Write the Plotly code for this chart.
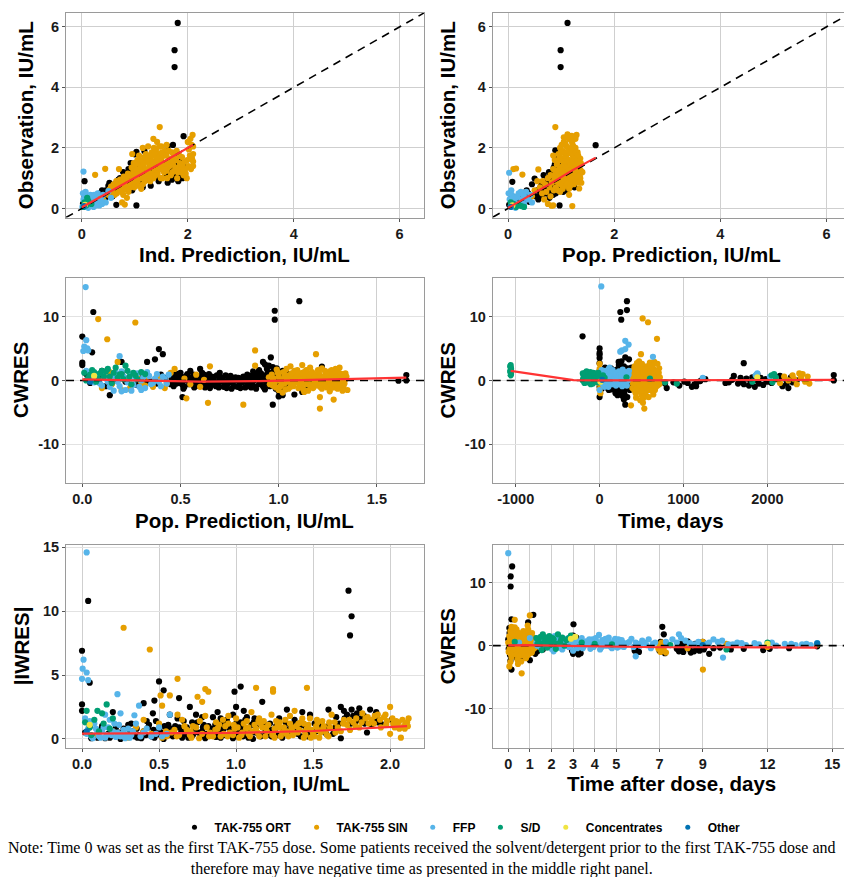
import plotly.graph_objects as go

# ---------------- data ----------------
GROUPS = ["TAK-755 ORT", "TAK-755 SIN", "FFP", "S/D", "Concentrates", "Other"]
COLORS = ["#000000", "#E69F00", "#56B4E9", "#009E73", "#F0E442", "#0072B2"]

# Panel 1: Observation vs Ind. Prediction
p1_ort = [(1.81,6.13),(1.75,5.23),(1.75,4.67),(1.92,2.39),(1.72,2.1),(1.18,1.9),(1.03,1.87),(1.0,1.79),(1.03,0.1),(0.65,0.12),
          (0.05,0.9),(0.05,0.44),(0.02,0.15),(0.1,0.1),(0.15,0.25),(0.2,0.3),(0.3,0.35),(0.35,0.5),(0.4,0.3),(0.45,0.6),
          (0.5,0.75),(0.55,0.5),(0.58,0.4),(0.6,0.65),(0.65,0.85),(0.7,0.6),(0.72,1.0),(0.75,0.75),(0.8,0.9),(0.84,0.7),
          (0.85,1.1),(0.88,1.3),(0.9,0.95),(0.92,1.5),(0.95,1.15),(0.98,0.8),(1.0,1.35),(1.02,1.0),(1.05,1.55),(1.08,1.2),
          (1.1,0.9),(1.12,1.4),(1.15,1.1),(1.2,1.25),(1.25,0.95),(1.3,1.4),(1.35,1.2),(1.4,1.05),(1.45,0.9),(1.5,1.3),
          (1.55,1.45),(1.6,1.1),(1.62,0.85),(1.65,1.5),(1.68,1.3),(1.7,0.95),(1.72,1.2),(1.75,1.45),(1.78,1.05),(1.8,1.35),
          (1.82,0.9),(1.85,1.55),(1.88,1.25),(1.9,1.0),(1.93,1.15),(1.62,2.05),(0.95,0.6),(1.15,0.7),(0.78,1.2),(1.3,0.75),
          (0.25,0.15),(0.45,0.35),(0.32,0.45),(0.38,0.6),(0.42,0.4),(0.48,0.55),(0.52,0.85),(0.57,0.7),(0.62,0.55),(0.67,0.75),
          (0.69,0.95),(0.74,0.85),(0.77,0.65),(0.82,0.8),(0.87,0.9),(0.93,1.05),(0.96,1.3),(1.01,1.2),(1.04,1.4),(1.07,1.05),
          (1.11,1.25),(1.14,1.55),(1.17,1.0),(1.22,1.15),(1.27,1.3),(1.32,1.05),(1.57,1.25),(1.63,1.4),(1.67,1.1),(1.73,1.35),
          (1.77,1.2),(1.83,1.3),(1.87,1.05),(1.91,1.4),(1.86,1.15)]
p1_sin = [(0.25,1.11),(0.44,1.31),(0.52,0.62),(0.55,0.72),(0.58,0.55),(0.6,0.8),(0.62,0.68),(0.65,0.9),(0.68,0.6),(0.7,0.75),
          (0.72,0.95),(0.75,0.7),(0.78,0.85),(0.8,0.65),(0.81,0.13),(0.76,0.2),(0.82,1.0),(0.85,0.78),(0.88,0.9),(0.9,1.1),
          (0.92,0.7),(0.95,0.95),(0.95,1.8),(0.97,1.2),(1.0,0.85),(1.0,1.05),(1.02,1.3),(1.05,0.9),(1.07,1.15),(1.1,1.0),
          (1.1,1.45),(1.12,1.25),(1.15,0.8),(1.15,2.0),(1.17,1.35),(1.2,1.1),(1.2,1.55),(1.22,0.95),(1.25,1.3),(1.25,1.7),
          (1.27,1.45),(1.3,1.15),(1.3,1.6),(1.32,1.85),(1.33,1.35),(1.35,1.0),(1.35,1.5),(1.37,1.75),(1.38,1.25),(1.4,1.6),
          (1.4,1.95),(1.42,1.4),(1.43,1.15),(1.45,1.55),(1.45,1.8),(1.47,2.69),(1.48,1.3),(1.5,1.65),(1.5,2.05),(1.52,1.45),
          (1.55,1.2),(1.55,1.75),(1.57,1.9),(1.6,1.5),(1.6,2.1),(1.62,1.35),(1.65,1.65),(1.68,1.1),(1.7,1.85),(1.72,1.45),
          (1.75,1.25),(1.78,1.6),(1.8,1.0),(1.82,1.35),(1.85,1.5),(1.88,1.2),(1.9,1.4),(1.92,1.1),(1.95,1.3),(1.98,1.0),
          (2.0,2.2),(2.02,1.95),(2.05,2.3),(2.08,1.65),(2.09,2.43),(2.1,1.8),(2.1,1.55),(2.1,2.05),(1.28,1.05),(1.18,1.7),
          (1.42,2.2),(1.52,1.0),(0.98,1.5),(1.05,1.6),(1.12,0.65),(0.88,0.55),(1.6,1.25),(1.35,2.3),(1.25,2.05),(0.7,1.3),
          (1.08,1.75),(0.66,0.5),(0.5,0.45),(0.4,0.3),(0.35,0.4),(0.3,0.2),(0.85,0.35),(0.78,0.45),
          (0.62,0.45),(0.68,0.85),(0.74,0.55),(0.79,1.05),(0.84,0.62),(0.87,1.15),(0.91,0.82),(0.94,1.35),(0.99,0.7),(1.01,1.45),
          (1.04,1.05),(1.06,0.75),(1.09,1.3),(1.11,1.6),(1.13,1.05),(1.16,1.5),(1.19,0.9),(1.21,1.8),(1.23,1.2),(1.26,1.55),
          (1.29,0.9),(1.31,1.75),(1.34,1.4),(1.36,2.0),(1.39,1.1),(1.41,1.7),(1.44,1.35),(1.46,2.05),(1.49,1.0),(1.51,1.85),
          (1.54,1.5),(1.56,1.3),(1.59,1.75),(1.61,1.0),(1.64,1.9),(1.66,1.4),(1.69,1.6),(1.71,1.2),(1.74,1.75),(1.77,1.35),
          (1.79,1.9),(1.81,1.2),(1.84,1.75),(1.87,1.45),(1.89,1.7),(1.91,1.25),(1.94,1.55),(1.96,1.15),(1.99,1.6),(2.01,1.4),
          (2.04,1.75),(2.06,1.3),(2.07,2.1),(2.1,1.4),(1.18,1.15),(1.33,1.55),(1.48,1.45),(1.63,1.55),(1.38,1.85)]
p1_ffp = [(0.03,1.22),(0.02,0.5),(0.03,0.3),(0.05,0.1),(0.06,0.4),(0.08,0.2),(0.1,0.05),(0.12,0.3),(0.14,0.15),(0.16,0.45),
          (0.18,0.1),(0.2,0.25),(0.22,0.05),(0.25,0.35),(0.28,0.2),(0.3,0.5),(0.33,0.1),(0.36,0.3),(0.4,0.45),(0.45,0.2),
          (0.5,0.57),(0.55,0.35),(0.07,0.55),(0.12,0.02),(0.01,0.05),(0.26,0.1),(0.15,0.35),(0.23,0.45),(0.38,0.15),(0.09,0.3)]
p1_sd = [(0.05,0.2),(0.08,0.1),(0.12,0.25),(0.03,0.05),(0.18,0.15),(0.1,0.35)]
p1_conc = [(0.06,0.12)]
p1_other = [(0.04,0.08)]
p1_smooth_x = [0.0, 0.5, 1.0, 1.5, 2.1]
p1_smooth_y = [0.04, 0.52, 1.02, 1.5, 2.1]

# Panel 2: Observation vs Pop. Prediction
p2_ort = [(1.12,6.13),(0.99,5.23),(0.99,4.67),(1.18,2.39),(1.65,2.09),(0.89,1.92),(0.9,1.7),(0.92,1.45),(0.97,0.1),(0.08,0.88),
          (0.07,0.41),(0.02,0.12),(0.12,0.2),(0.2,0.3),(0.3,0.25),(0.38,0.5),(0.4,0.22),(0.45,0.8),(0.5,0.99),(0.52,0.4),
          (0.55,0.6),(0.57,0.3),(0.6,0.55),(0.62,0.85),(0.65,0.45),(0.67,1.1),(0.7,0.65),(0.72,0.9),(0.75,0.5),(0.77,1.2),
          (0.8,0.7),(0.82,1.0),(0.84,0.6),(0.86,1.35),(0.88,0.8),(0.9,1.05),(0.92,0.65),(0.94,1.25),(0.96,0.9),(0.98,1.5),
          (1.0,0.75),(1.02,1.15),(1.04,0.55),(1.06,1.0),(1.08,0.7),(1.1,0.6),(1.05,1.4),(0.95,1.1),(0.85,0.45),(0.78,0.35),
          (0.35,0.6),(0.25,0.4),(1.25,0.7),(1.0,1.3),(0.9,0.5),(0.6,0.4),(0.63,0.7),(0.66,0.55),(0.69,0.85),(0.71,0.5),
          (0.74,0.75),(0.76,0.95),(0.79,0.55),(0.81,0.85),(0.83,1.15),(0.85,0.75),(0.87,1.0),(0.89,1.25),(0.91,0.85),(0.93,1.1),
          (0.95,1.35),(0.97,0.7),(0.99,1.2),(1.01,0.95),(1.03,1.3),(0.88,1.45),(0.93,1.6),(0.82,0.5)]
p2_sin = [(0.1,1.3),(0.15,1.32),(0.27,1.12),(0.57,1.29),(0.64,0.5),(0.68,0.3),(0.72,0.55),(0.75,0.15),(0.8,0.4),(0.82,0.09),
          (0.85,0.1),(1.21,0.08),(0.89,2.69),(1.29,2.43),(0.6,0.7),(0.65,0.9),(0.7,0.8),(0.75,1.0),(0.78,0.7),(0.8,1.1),
          (0.82,0.85),(0.85,1.3),(0.87,0.95),(0.88,1.6),(0.9,1.2),(0.9,0.7),(0.92,1.45),(0.93,1.0),(0.95,1.8),(0.95,0.85),
          (0.97,1.3),(0.98,2.0),(1.0,1.1),(1.0,1.6),(1.02,0.9),(1.02,1.9),(1.03,1.4),(1.05,1.2),(1.05,2.2),(1.06,1.0),
          (1.07,1.7),(1.08,0.75),(1.09,1.5),(1.1,1.25),(1.1,2.05),(1.11,0.95),(1.12,1.8),(1.13,1.4),(1.14,1.1),(1.15,2.3),
          (1.15,0.65),(1.16,1.6),(1.17,1.3),(1.18,1.95),(1.19,0.9),(1.2,1.5),(1.2,1.15),(1.21,2.15),(1.22,1.75),(1.23,1.35),
          (1.24,0.8),(1.25,1.05),(1.25,1.9),(1.26,1.55),(1.27,2.0),(1.28,1.25),(1.29,1.7),(1.3,0.95),(1.3,1.45),(1.31,1.85),
          (1.32,1.15),(1.33,1.6),(1.34,0.66),(1.35,1.3),(1.36,1.0),(1.37,1.5),(1.38,0.85),(1.12,2.45),(1.05,2.35),(0.98,0.55),
          (1.27,2.3),(0.85,1.75),(1.15,0.45),(0.5,0.6),(0.45,0.4),(0.55,0.9),(1.4,1.2),(1.18,1.05),(1.08,1.35),
          (0.86,0.6),(0.88,1.1),(0.91,0.9),(0.93,1.55),(0.94,0.6),(0.96,1.15),(0.97,1.7),(0.99,0.8),(1.01,1.35),(1.01,2.1),
          (1.03,0.65),(1.04,1.55),(1.05,0.95),(1.06,1.85),(1.07,1.3),(1.08,2.15),(1.09,1.05),(1.1,1.65),(1.11,0.8),(1.12,1.35),
          (1.13,2.0),(1.14,1.6),(1.15,1.05),(1.16,1.85),(1.17,0.75),(1.18,1.45),(1.19,2.25),(1.2,1.3),(1.21,0.95),(1.22,1.55),
          (1.23,2.05),(1.24,1.15),(1.25,1.65),(1.26,0.9),(1.27,1.45),(1.28,1.85),(1.29,1.05),(1.3,1.6),(1.31,1.3),(1.32,1.75),
          (1.33,0.85),(1.34,1.45),(1.35,1.1),(1.36,1.65),(1.37,1.25),(1.1,2.35),(1.2,2.4),(1.0,1.85),(0.92,1.25),(1.15,1.25)]
p2_ffp = [(0.02,1.18),(0.01,0.5),(0.03,0.3),(0.05,0.1),(0.07,0.45),(0.1,0.25),(0.12,0.05),(0.15,0.35),(0.18,0.15),(0.2,0.5),
          (0.22,0.1),(0.25,0.3),(0.28,0.45),(0.3,0.15),(0.34,0.55),(0.38,0.3),(0.42,0.45),(0.45,0.2),(0.06,0.6),(0.14,0.02),
          (0.17,0.4),(0.24,0.55),(0.32,0.35),(0.09,0.35)]
p2_sd = [(0.15,0.05),(0.2,0.12),(0.25,0.08),(0.1,0.15),(0.3,0.05),(0.05,0.2)]
p2_conc = [(0.08,0.1)]
p2_other = [(0.05,0.05)]
p2_smooth_x = [0.0, 0.4, 0.8, 1.2, 1.65]
p2_smooth_y = [0.02, 0.42, 0.82, 1.25, 1.68]

# Panel 3: CWRES vs Pop. Prediction
p3_ort = [(0.056,10.7),(0.0,6.86),(0.05,4.4),(0.0,2.77),(0.0,2.4),(0.2,2.9),(0.33,2.9),(0.37,3.3),(0.39,4.9),(0.41,4.1),
          (0.51,-2.6),(0.97,-3.8),(0.98,9.5),(0.98,10.9),(1.105,12.4),(0.96,3.6),(0.92,2.9),(1.22,2.15),(1.65,0.0),(1.61,-0.05),
          (1.65,0.85),(1.0,-2.5),(1.02,-2.3),(0.14,-2.3),(0.02,1.0),(0.05,0.3),(0.1,0.8),(0.15,-0.5),(0.2,1.2),(0.25,-0.8),
          (0.3,0.5),(0.35,-0.2),(0.4,0.9),(0.45,-0.6),(0.47,0.5),(0.48,-0.5),(0.5,1.2),(0.5,0.0),(0.52,-1.0),(0.53,0.7),
          (0.55,1.5),(0.56,-0.3),(0.58,0.3),(0.6,-0.8),(0.62,0.9),(0.64,-0.1),(0.65,-1.2),(0.67,0.4),(0.69,-0.6),(0.7,0.1),
          (0.72,-1.0),(0.73,0.8),(0.75,-0.3),(0.76,-1.3),(0.78,0.5),(0.8,-0.7),(0.81,0.2),(0.83,-1.1),(0.84,0.9),(0.86,-0.4),
          (0.87,1.4),(0.88,-1.0),(0.89,0.3),(0.9,-0.6),(0.91,1.1),(0.92,0.0),(0.93,-1.4),(0.94,1.8),(0.95,0.6),(0.96,-0.8),
          (0.97,1.3),(0.98,0.2),(0.99,-1.1),(1.0,0.8),(1.01,-0.3),(1.02,1.5),(1.03,-0.9),(1.04,0.4),(0.97,2.1),(0.93,2.5),
          (1.05,1.0),(1.1,-0.2),(1.15,-1.2),(1.2,0.5),(1.25,-0.7),(1.3,0.1),(1.12,-1.8),(0.6,1.8),(0.7,1.2),(1.08,-2.2),
          (1.22,-0.9),(0.46,-0.2),(0.49,0.9),(0.51,-0.7),(0.54,0.2),(0.57,-1.1),(0.59,0.6),(0.61,1.2),(0.63,-0.5),(0.66,0.6),
          (0.68,-0.9),(0.71,0.5),(0.74,-0.6),(0.77,0.1),(0.79,-1.0),(0.82,0.6),(0.85,-0.2),(0.86,-1.1),(0.88,0.9),(0.9,0.4),
          (0.92,-0.9),(0.93,0.8),(0.95,-0.3),(0.96,1.1),(0.98,-0.5),(0.99,0.6),(1.0,-0.7),(1.01,1.2),(1.03,0.1),(1.05,-0.4),
          (0.94,-0.4),(0.87,0.2),(0.8,0.3),(0.73,-0.2),(0.67,0.0),(0.99,1.9),(0.95,2.3),(1.0,-1.7),(0.9,1.6),(0.84,-0.7),
          (0.04,-0.4),(0.08,0.2),(0.12,-0.9),(0.18,0.0),(0.22,-0.2),(0.28,-0.7),(0.33,-0.1),(0.38,-0.5),(0.42,0.4),(0.1,1.5),
          (0.26,1.0),
          (0.455,0.3),(0.465,-0.9),(0.475,1.1),(0.485,0.1),(0.495,-0.4),(0.505,0.6),(0.515,-1.3),(0.525,0.0),(0.535,1.0),(0.545,-0.6),
          (0.555,0.4),(0.565,0.9),(0.575,-0.2),(0.585,-0.8),(0.595,0.1),(0.605,0.5),(0.615,-0.4),(0.625,-1.1),(0.635,0.3),(0.645,1.0),
          (0.655,-0.7),(0.665,0.2),(0.675,-0.3),(0.685,0.8),(0.695,-1.1),(0.705,-0.2),(0.715,0.3),(0.725,-0.5),(0.735,-1.2),(0.745,0.2),
          (0.755,0.7),(0.765,-0.4),(0.775,-0.9),(0.785,0.0),(0.795,0.4),(0.805,-1.2),(0.815,-0.3),(0.825,0.1),(0.835,0.5),(0.845,-0.9),
          (0.855,0.7),(0.865,-0.5),(0.875,0.0),(0.885,-1.3),(0.895,1.2),(0.905,-0.2),(0.915,0.6),(0.925,-1.1),(0.935,0.3),(0.945,1.3),
          (0.955,-0.9),(0.965,0.0),(0.975,0.9),(0.985,-1.3),(0.995,0.3),(1.005,-0.1),(1.015,0.5),(1.025,-1.2),(1.035,0.8),(1.045,-0.6)]
p3_sin = [(0.081,9.6),(0.27,9.06),(0.127,6.44),(0.18,2.9),(0.53,-2.8),(0.64,-3.5),(0.82,-3.8),(0.88,4.7),(1.19,4.1),(1.21,-4.4),
          (1.28,-3.0),(1.21,-2.6),(1.34,1.1),(1.35,-1.5),(0.88,2.3),(1.12,2.4),(0.47,1.8),(0.65,2.2),(0.1,-1.2),(0.12,0.5),
          (0.15,-0.6),(0.18,1.0),(0.2,-1.5),(0.22,0.2),(0.25,-0.9),(0.28,0.8),(0.3,-0.3),(0.33,0.6),(0.36,-1.0),(0.4,0.3),
          (0.43,-0.5),(0.45,1.2),(0.52,0.3),(0.55,-0.6),(0.58,0.9),(0.6,-1.0),(0.62,0.1),(0.95,0.5),(0.97,-0.8),(1.0,1.2),
          (1.0,-1.5),(1.02,0.2),(1.03,-0.5),(1.04,1.8),(1.05,0.8),(1.06,-1.0),(1.07,0.0),(1.08,1.5),(1.09,-0.3),(1.1,0.9),
          (1.1,-1.2),(1.11,0.4),(1.12,-0.7),(1.13,1.3),(1.14,0.1),(1.15,-1.6),(1.15,0.7),(1.16,2.0),(1.17,-0.4),(1.18,1.0),
          (1.18,-1.0),(1.19,0.3),(1.2,1.6),(1.2,-0.2),(1.21,0.8),(1.22,-1.3),(1.22,1.9),(1.23,0.0),(1.24,1.2),(1.24,-0.8),
          (1.25,0.5),(1.26,-1.7),(1.26,1.4),(1.27,-0.3),(1.28,0.9),(1.28,-1.1),(1.29,1.8),(1.3,0.2),(1.3,-0.6),(1.31,1.1),
          (1.32,-0.2),(1.02,-1.9),(1.06,2.2),(1.13,-1.8),(0.99,1.7),(1.17,1.3),(1.25,-0.1),
          (0.96,0.1),(0.98,-0.4),(1.0,0.6),(1.01,-0.9),(1.03,0.9),(1.04,-0.2),(1.06,0.4),(1.07,-0.7),(1.08,1.0),(1.09,0.2),
          (1.11,-0.9),(1.12,0.5),(1.13,-0.3),(1.14,1.6),(1.16,-0.8),(1.17,0.3),(1.19,-0.5),(1.2,0.9),(1.21,-1.0),(1.23,0.6),
          (1.24,-0.3),(1.25,1.1),(1.26,0.2),(1.27,-1.1),(1.28,0.4),(1.29,-0.5),(1.3,1.4),(1.31,-0.3),(1.32,0.5),(1.33,-1.0),
          (1.34,0.2),(1.12,1.2),(1.18,0.1),(1.22,0.3),(1.05,-1.3),(1.15,1.0),(1.3,-1.3),(1.27,1.6),(0.14,1.3),(0.24,-1.3),
          (0.32,-0.8),(0.38,0.7),(0.42,-1.2),
          (0.955,-0.6),(0.965,0.9),(0.975,0.3),(0.985,-1.1),(0.995,1.2),(1.005,0.0),(1.015,-0.6),(1.025,1.3),(1.035,-1.4),(1.045,0.5),
          (1.055,-0.2),(1.065,1.1),(1.075,-0.9),(1.085,0.3),(1.095,1.6),(1.105,-0.5),(1.115,0.1),(1.125,-1.4),(1.135,0.7),(1.145,-0.6),
          (1.155,0.3),(1.165,1.1),(1.175,-1.2),(1.185,0.5),(1.195,-0.1),(1.205,1.3),(1.215,-0.6),(1.225,0.0),(1.235,1.5),(1.245,-1.1),
          (1.255,0.3),(1.265,-0.5),(1.275,1.0),(1.285,-0.1),(1.295,0.6),(1.305,-0.9),(1.315,0.3),(1.325,1.0),(1.335,-0.5),(1.345,0.6),
          (1.325,-1.6),(1.31,2.0)]
p3_ffp = [(0.017,14.6),(0.005,4.6),(0.01,5.3),(0.02,6.3),(0.025,5.0),(0.03,4.7),(0.19,3.8),(0.02,1.5),(0.04,0.5),(0.06,-0.3),
          (0.08,1.0),(0.1,-0.8),(0.12,0.3),(0.14,-1.0),(0.16,0.8),(0.18,-0.2),(0.2,1.4),(0.22,-1.5),(0.24,0.5),(0.26,-0.7),
          (0.28,1.1),(0.3,0.0),(0.32,-1.2),(0.34,0.7),(0.36,-0.4),(0.38,1.0),(0.4,-0.9),(0.42,0.2),(0.44,0.9),(0.25,-1.6),
          (0.16,-1.6),(0.05,1.2),(0.07,0.6),(0.09,-0.5),(0.11,1.3),(0.13,-0.2),(0.15,0.4),(0.17,1.2),(0.19,-0.9),(0.21,0.6),
          (0.23,-0.3),(0.25,1.0),(0.27,0.2),(0.29,-1.0),(0.31,0.5),(0.33,1.3),(0.35,-0.6),(0.37,0.3),(0.39,-0.2),(0.41,0.6),
          (0.43,-0.5),(0.2,-1.7),(0.3,-1.5)]
p3_sd = [(0.01,1.2),(0.03,0.4),(0.05,1.6),(0.07,-0.2),(0.09,1.1),(0.11,0.6),(0.13,1.8),(0.15,-0.4),(0.17,2.0),(0.19,0.9),
         (0.21,0.2),(0.23,1.5),(0.25,-0.6),(0.27,0.8),(0.3,1.3),(0.22,2.3),(0.02,0.0),(0.12,1.4),(0.04,0.9),(0.06,1.3),
         (0.08,0.3),(0.1,1.5),(0.14,0.6),(0.16,1.2),(0.18,0.4),(0.2,1.0),(0.24,0.6),(0.26,1.2),(0.28,0.2),(0.32,1.0)]
p3_conc = [(0.06,0.7)]
p3_other = [(0.04,-0.2)]
p3_smooth_x = [0.0, 0.3, 0.6, 0.9, 1.2, 1.65]
p3_smooth_y = [0.15, 0.0, -0.2, -0.1, 0.1, 0.45]

# Panel 4: CWRES vs Time
p4_ort = [(-203,6.9),(247,10.7),(258,9.5),(326,12.4),(326,11.0),(306,3.6),(227,2.9),(0,2.7),(0,3.5),(0,4.3),
          (0,5.0),(0,4.0),(0,-2.6),(306,-3.8),(1718,2.7),(2791,0.85),(2791,0.0),(0,0.5),(0,-1.0),(0,1.5),
          (20,0.2),(40,-0.9),(60,1.1),(80,-0.3),(100,0.7),(110,-1.5),(130,0.0),(150,1.4),(160,-0.6),(180,0.9),
          (190,-2.0),(200,0.3),(214,-2.3),(220,1.8),(240,-1.0),(250,0.5),(260,-1.8),(270,1.2),(280,-0.4),(290,2.2),
          (300,0.1),(310,-1.2),(320,0.8),(330,-2.6),(340,1.6),(350,-0.2),(360,-1.5),(370,0.6),(380,2.0),(385,-0.8),
          (290,-3.0),(260,3.0),(350,3.3),(200,-1.2),(150,-0.8),(780,-0.5),(800,-1.2),(880,-0.3),(950,-0.8),(1050,-0.4),
          (1100,-1.0),(1130,-0.6),(1160,-0.3),(1200,-0.1),(1230,0.3),(1260,0.2),(1150,-0.9),(1010,-0.2),(1500,-0.4),(1540,-0.3),
          (1580,0.1),(1600,0.7),(1650,-0.5),(1700,-0.2),(1750,0.3),(1780,-0.8),(1800,-0.3),(1820,0.5),(1850,-1.0),(1870,0.0),
          (1880,1.0),(1900,-0.5),(1920,0.4),(1950,-0.7),(1980,0.2),(2000,-0.2),(2050,-0.4),(2100,0.2),(2150,0.7),(2180,-0.9),
          (2200,0.3),(2230,-0.5),(2250,-1.2),(2280,0.5),(2300,-0.3),(1720,-0.6),(1680,0.4),(2350,0.0),
          (5,-0.5),(15,1.2),(25,-1.3),(35,0.8),(45,0.1),(55,-0.7),(65,2.0),(75,0.4),(85,-1.1),(95,1.5),
          (105,-0.2),(115,0.8),(125,-0.9),(135,1.9),(145,0.3),(155,-1.4),(165,0.6),(175,-0.3),(185,1.6),(195,0.0),
          (205,-0.8),(215,0.9),(225,-1.6),(235,0.4),(245,1.3),(255,-0.5),(265,0.2),(275,-1.1),(285,0.7),(295,-2.0),
          (305,1.0),(315,-0.6),(325,0.4),(335,1.9),(345,-1.0),(355,0.5),(365,-0.3),(375,1.2),(395,0.0),(270,-2.4),
          (230,2.4)]
p4_sin = [(513,9.7),(577,9.1),(684,6.5),(652,2.9),(493,4.1),(374,-3.9),(485,-3.1),(533,-4.4),(517,-3.5),(0,2.6),
          (0,1.8),(0,1.0),(0,0.2),(0,-0.6),(0,-1.4),(10,-2.0),(10,0.6),(380,0.5),(390,-1.2),(400,1.5),
          (410,-0.3),(420,0.9),(430,-2.0),(440,0.2),(450,2.1),(455,-0.8),(460,1.2),(470,-1.5),(475,0.4),(480,2.4),
          (490,-0.4),(495,1.0),(500,-2.3),(505,0.0),(510,1.7),(520,-1.0),(525,0.7),(530,2.0),(540,-0.6),(545,1.3),
          (550,-1.8),(555,0.3),(560,2.2),(570,-0.2),(575,1.0),(580,-1.2),(590,0.6),(595,1.8),(600,-0.5),(610,0.2),
          (615,2.5),(620,-1.0),(630,0.9),(640,1.5),(645,-0.3),(655,0.5),(660,-1.5),(670,1.2),(680,0.0),(690,-0.8),
          (700,0.7),(710,1.9),(720,-0.2),(435,-2.7),(520,-2.8),(600,2.8),(470,3.0),(690,2.6),(415,1.9),(560,-2.5),
          (640,-2.2),(2100,0.3),(2150,-0.4),(2200,0.6),(2250,0.0),(2300,0.8),(2350,-0.6),(2400,0.4),(2420,1.0),(2450,-0.2),
          (2480,0.6),(2500,-0.5),(2380,1.1),(2320,0.2),
          (385,1.0),(395,-0.4),(405,0.7),(412,-1.5),(418,2.2),(425,-0.6),(432,0.3),(438,1.4),(445,-1.1),(452,0.6),
          (458,-0.1),(465,1.6),(472,-0.7),(478,0.9),(485,-1.8),(492,0.2),(498,1.9),(503,-0.9),(508,0.5),(515,-0.2),
          (522,1.3),(528,-1.4),(535,0.2),(542,1.7),(548,-0.4),(553,0.9),(558,-1.1),(565,0.4),(572,1.5),(578,-0.6),
          (585,0.1),(592,-1.5),(598,0.8),(605,1.4),(612,-0.3),(618,0.6),(625,-1.6),(632,0.2),(638,1.9),(643,-0.7),
          (650,1.0),(658,-0.1),(665,0.6),(672,-1.0),(678,1.4),(685,0.3),(695,-0.3),(705,1.2),(712,-0.6),(718,0.5),
          (445,2.7),(505,2.6),(585,-2.6),(625,2.3)]
p4_ffp = [(20,14.7),(306,6.2),(346,5.6),(266,4.7),(306,4.9),(636,3.7),(246,4.5),(0,-1.5),(10,0.6),(30,-0.4),
          (50,1.2),(70,0.3),(90,-0.8),(110,1.8),(130,0.0),(150,-0.6),(170,1.0),(190,0.5),(210,-0.3),(230,1.4),
          (250,0.2),(270,-0.9),(290,0.9),(310,-0.2),(330,0.6),(350,1.5),(120,2.0),(60,-1.0),(1860,0.8),(1880,1.1),
          (2030,0.6),(1230,0.4),(5,0.9),(15,-0.2),(25,1.6),(35,0.3),(45,-0.7),(55,0.7),(65,1.5),(75,-0.3),
          (85,1.1),(95,0.1),(105,-1.0),(115,0.5),(125,1.3),(135,-0.5),(145,0.8),(155,1.6),(165,-0.2),(175,0.3),
          (185,1.2),(195,-0.8),(205,0.9),(215,0.1),(225,-0.6),(235,0.7),(245,-0.1),(255,1.1),(265,0.4),(275,1.7),
          (285,-0.4),(295,0.2),(305,1.3),(315,0.6),(325,-0.8),(335,0.0),(345,0.9)]
p4_sd = [(-1060,0.8),(-1060,1.2),(-1060,1.6),(-1060,2.0),(-1060,2.4),(-1055,1.0),(-1055,1.8),(-1065,1.4),(-1065,2.2),
         (-200,0.0),(-190,0.8),(-180,-0.4),(-170,1.2),(-160,0.3),(-150,-0.3),(-140,1.0),(-130,0.5),(-120,-0.2),(-110,1.3),
         (-100,0.2),(-90,0.9),(-80,-0.5),(-70,0.6),(-60,1.1),(-50,0.0),(-40,0.4),(-30,1.0),(-20,-0.3),(-10,0.7),
         (-195,0.3),(-175,0.6),(-155,1.4),(-125,0.9),(-105,-0.6),(600,0.3),(780,-0.3),(920,-0.5),(2050,0.8),(2080,1.0),
         (2100,0.5),(1820,-0.2),(2060,-0.3),(320,0.5),(-185,0.1),(-165,0.9),(-145,0.5),(-135,-0.1),(-115,0.6),(-95,0.4),
         (-75,1.2),(-55,0.3),(-35,-0.2),(-15,1.2),(-5,0.2),(-200,1.1),(40,0.8),(60,0.4)]
p4_conc = [(10,-0.2),(1880,0.5)]
p4_other = [(30,0.1)]
p4_smooth_x = [-1060, -310, 0, 1000, 2000, 2800]
p4_smooth_y = [1.5, 0.05, 0.0, 0.0, 0.05, 0.1]

# Panel 5: |IWRES| vs Ind. Prediction
p5_ort = [(0.04,10.8),(0.0,6.9),(0.05,4.4),(0.5,4.5),(0.53,3.8),(0.63,3.2),(0.47,3.0),(0.4,2.8),(0.99,3.7),(1.03,4.1),
          (1.73,11.6),(1.75,9.6),(1.74,8.1),(0.0,2.7),(0.0,2.2),(1.68,0.05),(2.01,1.5),(0.02,0.5),(0.05,1.0),(0.08,0.2),
          (0.12,0.7),(0.18,0.1),(0.22,0.9),(0.28,0.3),(0.32,1.2),(0.36,0.1),(0.4,0.6),(0.42,1.4),(0.45,0.2),(0.5,0.8),
          (0.53,0.0),(0.56,1.1),(0.6,0.4),(0.62,1.6),(0.65,0.1),(0.68,0.9),(0.7,2.5),(0.72,0.3),(0.75,1.3),(0.78,0.6),
          (0.8,0.05),(0.82,1.0),(0.85,1.7),(0.86,0.4),(0.88,1.2),(0.9,0.1),(0.92,0.8),(0.94,1.5),(0.95,0.3),(0.97,1.0),
          (0.99,0.6),(1.0,2.5),(1.01,0.2),(1.03,1.3),(1.05,0.7),(1.07,1.7),(1.08,0.1),(1.1,1.1),(1.12,0.5),(1.14,1.4),
          (1.16,0.2),(1.17,2.9),(1.18,0.9),(1.2,0.3),(1.22,1.2),(1.25,0.6),(1.28,1.6),(1.3,0.1),(1.33,2.3),(1.35,0.8),
          (1.38,1.5),(1.4,0.4),(1.43,2.1),(1.45,1.0),(1.48,1.9),(1.52,0.6),(1.55,1.3),(1.6,2.3),(1.65,1.7),(1.68,2.5),
          (1.7,2.2),(1.72,1.9),(1.75,2.3),(1.78,1.4),(1.8,2.4),(1.83,1.8),(1.85,0.5),(1.88,1.1),(1.9,1.6),(1.92,1.3),
          (1.93,1.5),(1.6,1.0),(1.5,0.3),(0.98,1.9),(0.92,1.4),(1.06,1.5),(0.66,1.4),(0.3,1.1),(0.25,0.0),(0.15,0.05),
          (0.06,0.05),(1.12,1.6),(0.78,1.7),(0.58,0.8),(0.48,1.4),(0.2,2.1),(0.46,2.0),
          (0.33,0.6),(0.37,0.3),(0.43,0.9),(0.47,0.1),(0.52,0.5),(0.55,0.7),(0.59,0.2),(0.63,0.9),(0.67,0.4),(0.69,0.1),
          (0.73,0.8),(0.77,0.2),(0.79,1.1),(0.81,0.4),(0.84,0.8),(0.87,0.15),(0.89,0.6),(0.91,1.1),(0.93,0.3),(0.96,0.8),
          (0.98,0.05),(1.0,1.2),(1.02,0.6),(1.04,0.9),(1.06,0.3),(1.09,0.6),(1.11,0.0),(1.13,0.9),(1.15,1.5),(1.19,0.5),
          (1.21,0.8),(1.23,0.2),(1.26,1.0),(1.29,0.4),(1.31,0.8),(1.34,0.3),(1.37,1.1),(1.39,0.7),(1.42,0.2),(1.47,0.5),
          (1.51,1.2),(1.57,0.8),(1.63,0.4),(1.67,1.2),(1.76,1.8),(1.81,1.6),(1.87,2.3),(1.91,2.1),(1.94,1.2),(0.9,1.6),
          (0.74,1.9),(0.57,1.9),(0.34,0.2),(0.24,0.5),(0.27,0.8),(0.17,0.4),(0.1,0.1),(0.13,1.0),(1.05,2.2),(0.88,2.1),
          (0.305,0.4),(0.355,0.8),(0.385,0.05),(0.415,0.3),(0.435,1.1),(0.465,0.7),(0.495,0.35),(0.535,1.0),(0.565,0.3),(0.605,1.0),
          (0.645,0.6),(0.685,0.3),(0.715,1.3),(0.755,0.5),(0.785,0.9),(0.825,0.3),(0.865,1.1),(0.895,0.4),(0.935,1.2),(0.965,0.3),
          (1.015,1.0),(1.045,0.2),(1.075,0.8),(1.115,1.3),(1.145,0.4),(1.185,1.1),(1.235,0.7),(1.275,0.3),(1.325,1.2),(1.365,0.5),
          (1.415,1.0),(1.465,0.2),(1.535,0.9),(1.585,0.4),(1.645,0.9),(1.705,1.6),(1.745,1.2),(1.785,2.0),(1.835,1.2),(1.905,1.9)]
p5_sin = [(0.27,8.7),(0.44,7.0),(0.62,4.7),(0.51,3.4),(0.57,3.4),(1.13,4.0),(1.46,4.0),(1.24,3.9),(1.24,3.7),(2.0,2.5),
          (2.07,0.1),(0.8,3.9),(0.82,3.7),(0.75,3.3),(0.78,2.9),(0.52,2.6),(0.4,1.5),(0.1,0.3),(0.2,0.6),(0.3,0.1),
          (0.35,0.9),(0.45,0.4),(0.5,1.2),(0.55,0.2),(0.6,0.7),(0.65,1.5),(0.7,0.3),(0.72,1.0),(0.76,0.05),(0.8,1.8),
          (0.83,0.5),(0.87,1.3),(0.9,0.2),(0.93,1.0),(0.96,0.5),(1.0,1.6),(1.02,0.1),(1.05,1.2),(1.08,0.4),(1.1,2.1),
          (1.13,0.8),(1.15,0.2),(1.18,1.4),(1.2,0.6),(1.23,1.9),(1.25,0.1),(1.27,1.1),(1.3,0.5),(1.32,1.5),(1.34,0.2),
          (1.36,0.9),(1.38,2.2),(1.4,0.5),(1.42,1.3),(1.44,0.1),(1.46,0.8),(1.48,1.6),(1.5,0.4),(1.52,1.0),(1.54,0.1),
          (1.56,1.4),(1.58,0.6),(1.62,1.9),(1.66,0.9),(1.7,1.5),(1.74,0.7),(1.78,1.6),(1.82,2.0),(1.86,1.2),(1.9,1.8),
          (1.94,0.9),(1.98,1.4),(2.02,1.2),(2.05,1.0),(2.08,1.5),(2.1,1.2),(2.12,1.6),(2.0,0.4),(2.03,0.9),(1.97,1.9),
          (1.92,1.9),(1.6,0.2),(1.35,1.8),(1.15,1.6),(0.95,1.8),(0.62,1.9),(0.4,0.6),(1.28,0.9),(1.44,1.2),(1.08,0.9),
          (0.88,0.8),(0.52,0.1),(0.58,0.5),(0.63,0.3),(0.68,0.7),(0.71,0.1),(0.74,0.9),(0.78,0.4),(0.81,0.9),(0.85,0.2),
          (0.89,1.1),(0.92,0.4),(0.95,1.2),(0.98,0.3),(1.01,0.9),(1.04,0.5),(1.07,1.4),(1.09,0.2),(1.12,1.1),(1.14,0.5),
          (1.17,0.9),(1.19,0.2),(1.21,1.1),(1.24,0.4),(1.26,1.4),(1.29,0.2),(1.31,0.9),(1.33,0.6),(1.35,1.2),(1.37,0.3),
          (1.39,1.0),(1.41,0.7),(1.43,1.6),(1.45,0.3),(1.47,1.1),(1.49,0.7),(1.51,0.2),(1.53,1.3),(1.55,0.5),(1.57,1.0),
          (1.59,0.3),(1.61,0.9),(1.64,1.3),(1.68,0.6),(1.72,1.1),(1.76,1.3),(1.8,0.9),(1.84,1.6),(1.88,1.5),(2.04,1.4),
          (2.06,0.8),(2.09,1.0),(2.11,1.3),(1.96,1.7),(1.53,0.7),(1.25,0.8),(0.99,0.8),(1.16,1.2),
          (0.545,0.6),(0.615,0.2),(0.665,1.0),(0.705,0.6),(0.765,1.4),(0.825,0.2),(0.865,0.7),(0.915,1.5),(0.945,0.2),(0.985,1.1),
          (1.035,0.3),(1.065,0.8),(1.105,0.6),(1.145,1.4),(1.195,0.9),(1.235,0.3),(1.285,1.3),(1.325,0.4),(1.365,0.6),(1.405,1.2),
          (1.445,0.6),(1.485,0.1),(1.525,1.5),(1.565,0.8),(1.605,1.3),(1.645,0.5),(1.695,1.2),(1.735,1.5),(1.775,1.0),(1.815,1.3),
          (1.855,1.7),(1.895,1.2),(1.935,1.5),(1.975,1.1),(2.015,1.6),(2.055,1.3),(2.095,0.8),(2.115,1.0)]
p5_ffp = [(0.03,14.6),(0.01,6.2),(0.004,5.5),(0.03,5.2),(0.0,4.7),(0.04,4.6),(0.23,3.5),(0.37,2.6),(0.34,1.85),(0.57,1.9),
          (0.02,1.6),(0.04,0.8),(0.06,0.2),(0.08,1.2),(0.1,0.5),(0.12,0.1),(0.14,0.9),(0.16,0.3),(0.18,1.5),(0.2,0.6),
          (0.22,0.15),(0.24,1.1),(0.26,0.4),(0.28,0.05),(0.3,0.8),(0.32,0.3),(0.35,1.2),(0.4,0.5),(0.45,0.2),(0.5,0.9),
          (0.55,0.4),(0.25,2.0),(0.15,1.9),(0.07,0.05),(0.03,0.4),(0.05,1.4),(0.09,0.8),(0.11,0.2),(0.13,0.6),(0.15,0.1),
          (0.17,0.9),(0.19,0.3),(0.21,1.2),(0.23,0.5),(0.25,0.2),(0.27,0.7),(0.29,0.3),(0.31,0.1),(0.33,0.6),(0.38,0.2),
          (0.42,0.8),(0.48,0.4),(0.52,0.2)]
p5_sd = [(0.16,2.7),(0.1,2.2),(0.13,2.0),(0.02,1.3),(0.05,0.9),(0.08,1.5),(0.11,0.6),(0.14,1.2),(0.2,1.6),(0.06,0.3),
         (0.03,2.2),(0.18,0.8)]
p5_conc = [(0.05,1.1)]
p5_other = [(0.03,0.6)]
p5_smooth_x = [0.0, 0.5, 1.0, 1.5, 1.8, 2.11]
p5_smooth_y = [0.41, 0.42, 0.47, 0.62, 0.78, 1.0]

# Panel 6: CWRES vs Time after dose
p6_ort = [(0.18,12.6),(0.11,11.0),(0.11,9.4),(0.15,4.2),(1.16,4.9),(0.92,3.7),(3.02,3.4),(7.13,3.0),(7.2,1.8),(0.15,-3.8),
          (0.05,2.8),(0.1,-2.4),(0.0,1.0),(0.02,-0.5),(0.06,2.0),(0.1,0.3),(0.14,-1.2),(0.2,1.5),(0.25,-0.3),(0.3,0.9),
          (0.35,-1.8),(0.4,1.9),(0.45,0.0),(0.5,-0.8),(0.55,1.2),(0.6,0.4),(0.65,-1.3),(0.7,0.6),(0.75,1.7),(0.8,-0.5),
          (0.85,0.2),(0.9,-1.0),(0.95,0.9),(1.0,-2.3),(1.05,1.4),(1.1,0.3),(1.15,-0.6),(1.2,1.0),(1.25,-1.3),(1.3,0.5),
          (1.4,-0.2),(1.6,-0.6),(2.95,-0.8),(3.0,-1.3),(3.05,0.4),(3.1,-1.0),(3.15,1.3),(3.2,-0.5),(3.25,-1.4),(3.3,0.8),
          (3.35,-1.2),(3.0,1.6),(5.85,-0.8),(5.95,-0.3),(6.05,-1.0),(6.0,0.2),(7.0,-0.8),(7.1,-0.3),(7.2,0.4),(7.25,-1.2),
          (7.8,-0.5),(8.0,0.3),(8.1,-1.0),(8.2,-0.2),(8.3,0.7),(8.4,-0.6),(8.5,0.1),(8.6,-0.9),(8.7,-0.3),(8.8,0.4),
          (8.9,-0.5),(9.0,0.6),(9.1,-0.2),(9.3,-1.3),(9.5,-0.4),(9.8,-0.3),(10.3,-0.6),(10.9,-0.5),(11.8,-0.7),(12.1,-0.5),
          (13.0,-0.4),(14.3,-0.1),(0.04,0.4),(0.08,-1.5),(0.12,0.9),(0.17,-0.4),(0.22,0.5),(0.27,-1.0),(0.33,0.2),(0.37,1.1),
          (0.42,-0.6),(0.47,0.9),(0.52,-1.4),(0.57,0.3),(0.62,-0.3),(0.67,1.0),(0.72,-0.9),(0.77,0.2),(0.82,1.1),(0.87,-1.6),
          (0.92,0.5),(0.97,-0.4),(1.02,0.7),(1.07,-1.0),(1.12,0.2),(1.17,0.8),(1.22,-0.2),(1.27,0.1),(1.35,-0.9),(0.3,2.3),
          (0.6,-2.1),(7.05,0.6),(7.15,-0.9),(7.9,-0.9),(8.05,-0.4),(8.25,0.2),(8.45,-1.1),(8.65,0.3),(8.85,-0.8),(9.05,-0.6),
          (9.2,0.2)]
p6_sin = [(0.3,4.1),(1.0,4.8),(9.01,-3.8),(0.62,-4.4),(0.05,-3.3),(0.0,0.5),(0.02,-1.0),(0.05,1.5),(0.08,-0.2),(0.1,2.3),
          (0.12,0.8),(0.15,-1.8),(0.18,0.2),(0.2,1.2),(0.22,-0.6),(0.25,2.0),(0.28,0.5),(0.3,-1.3),(0.32,1.0),(0.35,-0.1),
          (0.38,2.6),(0.4,0.3),(0.42,-2.2),(0.45,1.4),(0.48,-0.5),(0.5,0.8),(0.52,2.0),(0.55,-1.0),(0.58,0.1),(0.6,1.6),
          (0.62,-0.3),(0.65,0.9),(0.68,-1.5),(0.7,2.3),(0.72,0.4),(0.75,-0.8),(0.78,1.2),(0.8,0.0),(0.82,-2.0),(0.85,1.8),
          (0.88,0.6),(0.9,-0.5),(0.92,2.6),(0.95,1.1),(0.98,-1.2),(1.0,0.3),(1.02,1.5),(1.05,-0.2),(1.08,0.8),(1.1,2.0),
          (1.12,-0.7),(1.15,0.4),(1.18,1.3),(1.2,-0.4),(1.25,0.7),(1.3,0.0),(1.35,0.5),(0.15,3.0),(0.45,-2.9),(0.1,-2.6),
          (0.3,2.9),(0.6,-2.5),(0.9,3.2),(6.95,-0.5),(7.0,0.2),(7.05,-1.0),(7.1,0.5),(7.15,-0.2),(7.2,-0.8),(7.25,0.0),
          (7.3,-1.1),(8.3,-0.4),(9.0,0.6),(10.1,0.3),(3.0,0.8),(12.0,-0.2),(14.3,0.2),
          (0.03,0.2),(0.06,-0.6),(0.09,1.0),(0.11,-1.3),(0.13,0.4),(0.16,1.7),(0.19,-0.4),(0.21,0.7),(0.24,-1.0),(0.27,1.3),
          (0.29,-0.2),(0.31,0.3),(0.34,-0.7),(0.36,1.5),(0.39,-1.4),(0.41,0.8),(0.44,0.0),(0.47,1.9),(0.49,-0.3),(0.51,-1.6),
          (0.54,0.5),(0.57,1.1),(0.59,-0.8),(0.61,0.7),(0.64,-0.2),(0.67,1.6),(0.69,0.2),(0.71,-1.1),(0.74,0.9),(0.76,-0.1),
          (0.79,0.5),(0.81,1.4),(0.84,-0.6),(0.86,0.3),(0.89,1.0),(0.91,-1.5),(0.94,0.5),(0.96,-0.3),(0.99,1.6),(1.01,-0.6),
          (1.04,0.8),(1.06,0.1),(1.09,-1.1),(1.11,1.2),(1.14,0.0),(1.17,-0.3),(1.19,0.7),(1.22,0.2),(1.27,-0.2),(1.32,0.3)]
p6_ffp = [(0.0,14.7),(5.9,-1.7),(9.94,-1.9),(7.9,1.8),(14.3,0.4),(1.3,0.5),(1.5,-0.3),(1.7,1.0),(1.9,0.2),(2.0,-0.5),
          (2.2,0.8),(2.3,1.3),(2.4,0.0),(2.5,-0.6),(2.6,0.6),(2.7,1.1),(2.8,-0.2),(2.9,0.4),(3.1,0.9),(3.2,-0.4),
          (3.3,0.3),(3.4,1.2),(3.5,-0.1),(3.6,0.7),(3.7,0.2),(3.8,-0.5),(3.9,1.0),(4.0,0.1),(4.1,0.6),(4.2,1.7),
          (4.3,-0.3),(4.4,0.4),(4.5,1.1),(4.6,0.0),(4.7,0.5),(4.8,-0.4),(4.9,0.8),(5.0,0.2),(5.1,1.0),(5.2,-0.1),
          (5.3,0.5),(5.4,0.1),(5.6,0.6),(5.8,-0.2),(6.0,0.3),(6.2,0.8),(6.4,0.1),(6.6,-0.4),(6.8,0.5),(7.3,0.6),
          (7.6,1.0),(8.2,0.8),(8.6,0.2),(9.2,0.3),(9.5,1.0),(9.7,0.6),(10.2,0.2),(10.6,0.5),(11.0,0.1),(11.4,0.4),
          (12.4,0.0),(12.8,0.3),(13.1,0.3),(13.6,0.2),(14.0,0.1),(0.5,0.5),(1.0,1.2),(3.0,-0.8),(2.1,-0.9),
          (1.35,0.0),(1.6,0.6),(1.8,1.2),(2.05,0.2),(2.15,1.5),(2.35,-0.3),(2.55,0.9),(2.65,0.2),(2.85,1.3),(3.05,0.3),
          (3.25,0.7),(3.45,-0.4),(3.55,0.4),(3.75,1.0),(3.85,0.2),(3.95,-0.2),(4.05,1.2),(4.15,0.3),(4.25,-0.6),(4.35,0.9),
          (4.45,0.0),(4.55,0.7),(4.65,1.3),(4.75,-0.2),(4.85,0.4),(4.95,1.1),(5.05,-0.3),(5.15,0.5),(5.25,0.9),(5.35,-0.2),
          (5.5,0.4),(5.7,1.1),(5.9,0.5),(6.1,0.0),(6.3,0.5),(6.5,1.0),(6.7,0.3),(7.4,0.2),(7.8,0.5),(8.0,1.2),
          (8.4,0.4),(8.8,0.6),(9.3,0.5),(9.9,0.8),(10.4,0.2),(10.8,0.4),(11.6,0.2),(12.2,0.5),(13.3,0.1),(13.8,0.3)]
p6_sd = [(1.3,1.2),(1.45,0.4),(1.6,1.8),(1.7,0.8),(1.8,-0.3),(1.9,1.5),(2.0,0.6),(2.1,1.0),(2.2,-0.5),(2.3,1.8),
         (2.4,0.5),(2.5,1.3),(1.55,-0.7),(2.7,0.9),(2.9,1.6),(4.8,0.2),(7.5,0.1),(10.1,-0.6),(12.0,0.5),(1.4,0.9),
         (0.3,0.6),(1.35,0.3),(1.5,1.4),(1.65,0.2),(1.75,1.3),(1.85,0.6),(1.95,0.1),(2.05,1.2),(2.25,0.3),(2.45,1.0),
         (2.6,0.0),(2.8,1.2),(3.4,0.5),(4.0,0.3)]
p6_conc = [(2.9,1.1),(3.1,1.4),(12.0,0.3)]
p6_other = [(14.3,0.35),(9.0,0.1)]
p6_smooth_x = [0.0, 1.0, 2.0, 4.0, 7.0, 10.0, 14.3]
p6_smooth_y = [0.05, 0.1, 0.0, -0.1, -0.25, -0.25, -0.3]

PANELS = [
    (p1_ort, p1_sin, p1_ffp, p1_sd, p1_conc, p1_other, p1_smooth_x, p1_smooth_y),
    (p2_ort, p2_sin, p2_ffp, p2_sd, p2_conc, p2_other, p2_smooth_x, p2_smooth_y),
    (p3_ort, p3_sin, p3_ffp, p3_sd, p3_conc, p3_other, p3_smooth_x, p3_smooth_y),
    (p4_ort, p4_sin, p4_ffp, p4_sd, p4_conc, p4_other, p4_smooth_x, p4_smooth_y),
    (p5_ort, p5_sin, p5_ffp, p5_sd, p5_conc, p5_other, p5_smooth_x, p5_smooth_y),
    (p6_ort, p6_sin, p6_ffp, p6_sd, p6_conc, p6_other, p6_smooth_x, p6_smooth_y),
]
# reference line per panel: identity, zero, or none
REF_LINE = ["identity", "identity", "zero", "zero", None, "zero"]

X_TITLES = ["Ind. Prediction, IU/mL", "Pop. Prediction, IU/mL", "Pop. Prediction, IU/mL",
            "Time, days", "Ind. Prediction, IU/mL", "Time after dose, days"]
Y_TITLES = ["Observation, IU/mL", "Observation, IU/mL", "CWRES", "CWRES", "|IWRES|", "CWRES"]
X_TICKS = [[0, 2, 4, 6], [0, 2, 4, 6], [0, 0.5, 1.0, 1.5], [-1000, 0, 1000, 2000],
           [0, 0.5, 1.0, 1.5, 2.0], [0, 1, 2, 3, 4, 5, 7, 9, 12, 15]]
X_TICKTEXT = [["0", "2", "4", "6"], ["0", "2", "4", "6"], ["0.0", "0.5", "1.0", "1.5"],
              ["-1000", "0", "1000", "2000"], ["0.0", "0.5", "1.0", "1.5", "2.0"],
              ["0", "1", "2", "3", "4", "5", "7", "9", "12", "15"]]
Y_TICKS = [[0, 2, 4, 6], [0, 2, 4, 6], [-10, 0, 10], [-10, 0, 10], [0, 5, 10, 15], [-10, 0, 10]]
Y_TICKTEXT = [["0", "2", "4", "6"], ["0", "2", "4", "6"], ["-10", "0", "10"], ["-10", "0", "10"],
              ["0", "5", "10", "15"], ["-10", "0", "10"]]

NOTE = ("Note: Time 0 was set as the first TAK-755 dose. Some patients received the solvent/detergent prior to the first TAK-755 dose and"
        "<br>therefore may have negative time as presented in the middle right panel.")

# ---------------- layout geometry (pixels) ----------------
W, H = 844, 877
XDOM = [[66 / W, 424 / W], [492.7 / W, 1.0]]
YDOM = [[1 - 213 / H, 1 - 7 / H], [1 - 480 / H, 1 - 274 / H], [1 - 746.7 / H, 1 - 542.7 / H]]
X_RANGES = [[-0.3, 6.46], [-0.29, 6.33], [-0.083, 1.74], [-1274, 2913], [-0.104, 2.22], [-0.72, 15.54]]
Y_RANGES = [[-0.3, 6.46], [-0.3, 6.46], [-16, 16], [-16, 16], [-0.68, 15.18], [-16.2, 16.0]]
# axis-title anchor positions in pixels
XT_POS = [(244, 250), (671, 250), (244, 518.5), (671, 518.5), (244, 783), (671, 783)]
YT_POS = [(25, 110), (447, 110), (20.5, 377), (447, 377), (21, 644.7), (447, 644.7)]

FONT = "Liberation Sans, Arial, sans-serif"
DASH = dict(color="#000", width=1.6, dash="8px,6px")
fig = go.Figure()

for i, panel in enumerate(PANELS):
    xa = "x" if i == 0 else f"x{i+1}"
    ya = "y" if i == 0 else f"y{i+1}"
    for g, pts in enumerate(panel[:6]):
        fig.add_trace(go.Scatter(
            x=[p[0] for p in pts], y=[p[1] for p in pts], mode="markers",
            marker=dict(color=COLORS[g], size=6.2, line=dict(width=0)),
            name=GROUPS[g], showlegend=False, xaxis=xa, yaxis=ya, hoverinfo="skip"))
    if REF_LINE[i] == "identity":
        lo = X_RANGES[i][0]
        hi = max(X_RANGES[i][1], Y_RANGES[i][1])
        fig.add_trace(go.Scatter(x=[lo, hi], y=[lo, hi], mode="lines", line=DASH,
                                 showlegend=False, xaxis=xa, yaxis=ya, hoverinfo="skip"))
    elif REF_LINE[i] == "zero":
        fig.add_trace(go.Scatter(x=X_RANGES[i], y=[0, 0], mode="lines", line=DASH,
                                 showlegend=False, xaxis=xa, yaxis=ya, hoverinfo="skip"))
    fig.add_trace(go.Scatter(x=panel[6], y=panel[7], mode="lines", line=dict(color="#FF3333", width=2.2),
                             showlegend=False, xaxis=xa, yaxis=ya, hoverinfo="skip"))

# legend entries
for g in range(6):
    fig.add_trace(go.Scatter(x=[None], y=[None], mode="markers", name=GROUPS[g],
                             marker=dict(color=COLORS[g], size=5), showlegend=True))

TITLE_FONT = dict(family=FONT, size=20.5, color="#000", weight="bold")
annotations = []
for i in range(6):
    suffix = "" if i == 0 else str(i + 1)
    col = i % 2
    row = i // 2
    right = (col == 1)
    fig.layout[f"xaxis{suffix}"] = dict(
        domain=XDOM[col], anchor=f"y{suffix}", range=X_RANGES[i],
        tickmode="array", tickvals=X_TICKS[i], ticktext=X_TICKTEXT[i],
        showgrid=True, gridcolor="#cfcfcf", gridwidth=1, zeroline=False,
        showline=True, mirror=True, linecolor="#9a9a9a", linewidth=1,
        ticks="outside", ticklen=3, tickcolor="#555", tickwidth=1,
        tickfont=dict(family=FONT, size=14.5, color="#1a1a1a", weight="bold"),
        fixedrange=True)
    fig.layout[f"yaxis{suffix}"] = dict(
        domain=YDOM[row], anchor=f"x{suffix}", range=Y_RANGES[i],
        tickmode="array", tickvals=Y_TICKS[i], ticktext=Y_TICKTEXT[i],
        showgrid=True, gridcolor="#cfcfcf" if row == 0 else "#e2e2e2", gridwidth=1, zeroline=False,
        showline=True, mirror=(not right), linecolor="#9a9a9a", linewidth=1,
        ticks="outside", ticklen=3, tickcolor="#555", tickwidth=1,
        tickfont=dict(family=FONT, size=14.5, color="#1a1a1a", weight="bold"),
        fixedrange=True)
    xpx, ypx = XT_POS[i]
    annotations.append(dict(text=X_TITLES[i], xref="paper", yref="paper", x=xpx / W, y=1 - ypx / H,
                            xanchor="center", yanchor="middle", showarrow=False, font=TITLE_FONT))
    xpx, ypx = YT_POS[i]
    annotations.append(dict(text=Y_TITLES[i], xref="paper", yref="paper", x=xpx / W, y=1 - ypx / H,
                            xanchor="center", yanchor="middle", showarrow=False, textangle=-90,
                            font=TITLE_FONT))

annotations.append(dict(text=NOTE, xref="paper", yref="paper", x=0.5, y=-0.004,
                        xanchor="center", yanchor="bottom", showarrow=False, align="center",
                        font=dict(family="Liberation Serif, Times New Roman, serif", size=16, color="#000")))

fig.update_layout(
    width=W, height=H, margin=dict(l=0, r=0, t=0, b=0),
    paper_bgcolor="white", plot_bgcolor="white",
    showlegend=True,
    legend=dict(orientation="h", x=0.545, xanchor="center", y=1 - 827 / H, yanchor="middle",
                font=dict(family=FONT, size=12, color="#000", weight="bold"),
                bgcolor="rgba(0,0,0,0)", itemwidth=30, traceorder="normal"),
    annotations=annotations,
)

fig.write_html("out.html")
